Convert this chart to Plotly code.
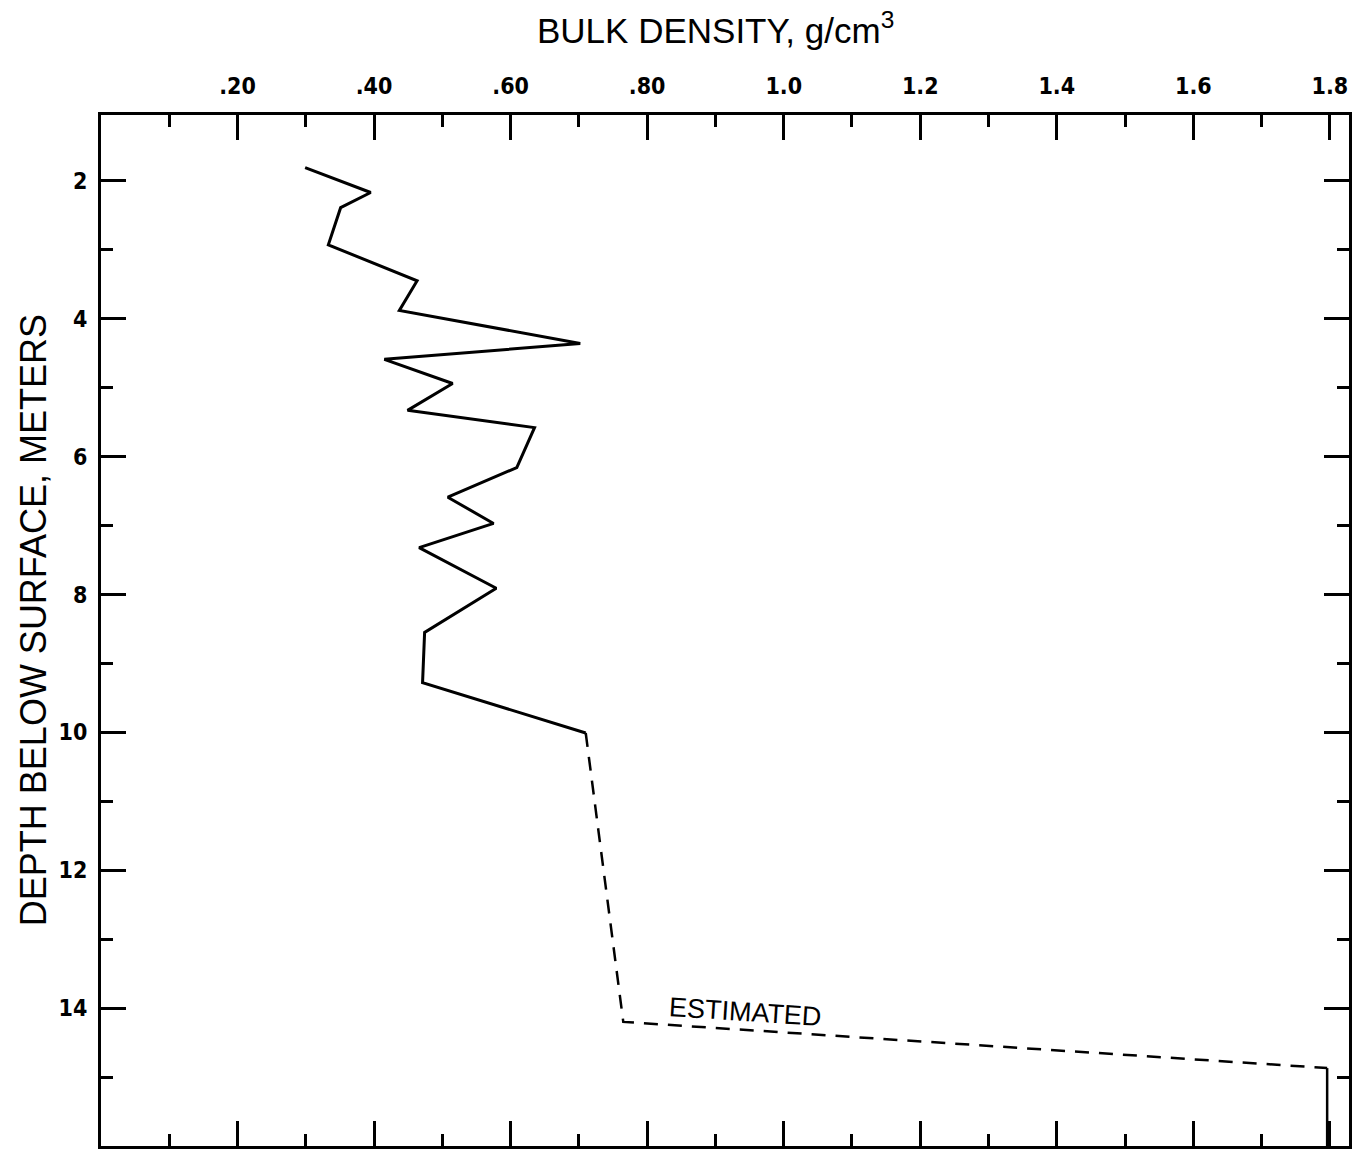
import plotly.graph_objects as go

# measured bulk density profile (solid)
density_measured = [0.299, 0.395, 0.351, 0.333, 0.463, 0.437, 0.702, 0.415, 0.515,
                    0.449, 0.635, 0.609, 0.508, 0.575, 0.466, 0.579, 0.474, 0.471, 0.710]
depth_measured = [1.81, 2.17, 2.39, 2.93, 3.45, 3.88, 4.36, 4.59, 4.94,
                  5.33, 5.58, 6.16, 6.59, 6.97, 7.32, 7.91, 8.55, 9.28, 10.01]

# estimated portion (dashed)
density_estimated = [0.710, 0.765, 1.796]
depth_estimated = [10.01, 14.20, 14.87]

# bottom solid segment
density_bottom = [1.796, 1.796]
depth_bottom = [14.87, 16.0]

x_tickvals = [0.2, 0.4, 0.6, 0.8, 1.0, 1.2, 1.4, 1.6, 1.8]
x_ticktext = [".20", ".40", ".60", ".80", "1.0", "1.2", "1.4", "1.6", "1.8"]
y_tickvals = [2, 4, 6, 8, 10, 12, 14]
y_ticktext = ["2", "4", "6", "8", "10", "12", "14"]

fig = go.Figure()
fig.add_trace(go.Scatter(x=density_measured, y=depth_measured, mode="lines",
                         line=dict(color="black", width=3), showlegend=False))
fig.add_trace(go.Scatter(x=density_estimated, y=depth_estimated, mode="lines",
                         line=dict(color="black", width=2.5, dash="14px,10px"),
                         showlegend=False))
fig.add_trace(go.Scatter(x=density_bottom, y=depth_bottom, mode="lines",
                         line=dict(color="black", width=2.5), showlegend=False))

tickfont = dict(family="DejaVu Sans Condensed, sans-serif",
                size=23, color="black", weight="bold")

fig.update_xaxes(range=[0, 1.828], side="top", showgrid=False, zeroline=False,
                 showline=True, linewidth=3, linecolor="black", mirror="ticks",
                 ticks="inside", ticklen=25, tickwidth=3, tickcolor="black",
                 tickvals=x_tickvals, ticktext=x_ticktext, tickfont=tickfont,
                 ticklabelstandoff=9,
                 minor=dict(ticks="inside", ticklen=12, tickwidth=3, tickcolor="black",
                            tickvals=[0.1, 0.3, 0.5, 0.7, 0.9, 1.1, 1.3, 1.5, 1.7], showgrid=False))
fig.update_yaxes(range=[16, 1.046], showgrid=False, zeroline=False,
                 showline=True, linewidth=3, linecolor="black", mirror="ticks",
                 ticks="inside", ticklen=25, tickwidth=3, tickcolor="black",
                 tickvals=y_tickvals, ticktext=y_ticktext, tickfont=tickfont,
                 ticklabelstandoff=6,
                 minor=dict(ticks="inside", ticklen=12, tickwidth=3, tickcolor="black",
                            tickvals=[3, 5, 7, 9, 11, 13, 15], showgrid=False))

fig.add_annotation(text="BULK DENSITY, g/cm<sup>3</sup>", xref="paper", yref="paper",
                   x=0.492, y=1.084, showarrow=False, xanchor="center", yanchor="middle",
                   font=dict(family="Liberation Sans, Arial, sans-serif", size=35, color="black"))
fig.add_annotation(text="DEPTH BELOW SURFACE, METERS", xref="paper", yref="paper",
                   x=-0.0545, y=0.510, showarrow=False, textangle=-90,
                   xanchor="center", yanchor="middle",
                   font=dict(family="Liberation Sans, sans-serif", size=36, color="black"))
fig.add_annotation(text="ESTIMATED", x=0.944, y=14.06, xref="x", yref="y",
                   showarrow=False, textangle=3.7,
                   font=dict(family="Liberation Sans, Arial, sans-serif", size=27, color="black"))

fig.update_layout(width=1355, height=1150, paper_bgcolor="white", plot_bgcolor="white",
                  margin=dict(l=101, r=6, t=115, b=1), showlegend=False)

fig.write_html("out.html")
